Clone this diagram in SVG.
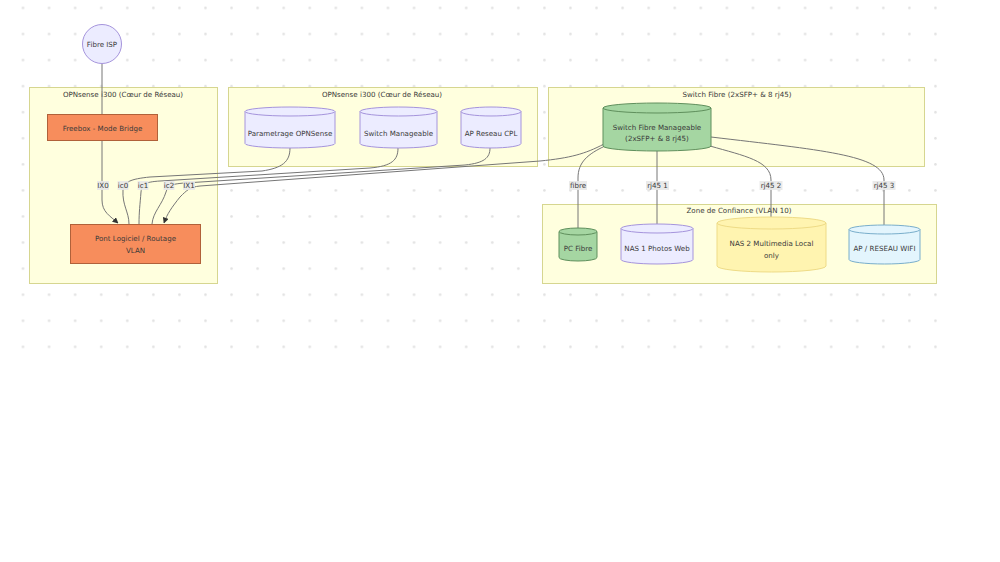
<svg xmlns="http://www.w3.org/2000/svg" width="1000" height="562" viewBox="0 0 1000 562">
<defs>
<pattern id="dots" x="10" y="-5" width="26.07" height="26.07" patternUnits="userSpaceOnUse">
<circle cx="13" cy="13" r="1.3" fill="#e2e2e2"/>
</pattern>
<marker id="arr" viewBox="0 0 10 10" refX="9" refY="5" markerWidth="6" markerHeight="6" orient="auto" markerUnits="userSpaceOnUse">
<path d="M0,0 L10,5 L0,10 z" fill="#333"/>
</marker>
<style>
text{font-family:"DejaVu Sans","Liberation Sans",sans-serif;font-size:7.1px;fill:#3a3a3a;text-anchor:middle;dominant-baseline:central}
.cl{fill:#ffffde;stroke:#d6d690;stroke-width:1}
.edge{fill:none;stroke:#767676;stroke-width:1}
.lbl{fill:#e8e8e8;opacity:0.9}
.def{fill:#ececff;stroke:#a594dc;stroke-width:1}
.org{fill:#f78d5c;stroke:#b0613a;stroke-width:1}
.grn{fill:#a5d6a2;stroke:#5f8f5c;stroke-width:1}
.yel{fill:#fff4b0;stroke:#eedb86;stroke-width:1}
.blu{fill:#e3f5fd;stroke:#79aecb;stroke-width:1}
</style>
</defs>
<rect x="0" y="0" width="1000" height="562" fill="#ffffff"/>
<rect x="10" y="0" width="938" height="360" fill="url(#dots)"/>

<g id="clusters">
<g id="cluster-opn1"><rect class="cl" x="29.5" y="87.5" width="188" height="196"/><text x="123" y="94">OPNsense i300 (Cœur de Réseau)</text></g>
<g id="cluster-opn2"><rect class="cl" x="228.5" y="87.5" width="309" height="79"/><text x="382" y="94">OPNsense i300 (Cœur de Réseau)</text></g>
<g id="cluster-switch"><rect class="cl" x="548.5" y="87.5" width="376" height="79"/><text x="737" y="94">Switch Fibre (2xSFP+ &amp; 8 rj45)</text></g>
<g id="cluster-zone"><rect class="cl" x="542.5" y="204.5" width="394" height="79"/><text x="739" y="210">Zone de Confiance (VLAN 10)</text></g>
</g>

<g id="connectors">
<path class="edge" d="M102,64 L102,114"/>
<path class="edge" d="M102,141 L102,200 C102,212 110,216 118,223" marker-end="url(#arr)"/>
<path class="edge" d="M290,148 C290,162 282,168 262,171 L150,177 C130,179 124,182 123,190 C122,205 129,212 129,224"/>
<path class="edge" d="M398,148 C398,160 392,166 370,168 L160,181 C145,182 142,184 141,192 C140,205 139,212 139,224"/>
<path class="edge" d="M490,148 C490,158 484,163 465,165 L185,183 C170,184 168,186 166,192 C162,205 153,212 152,224"/>
<path class="edge" d="M604,144 C585,154 570,158 540,161 L200,186 C190,187 187,190 180,197 C172,207 167,214 164,223" marker-end="url(#arr)"/>
<path class="edge" d="M605,146 C588,154 578,162 578,178 L578,229"/>
<path class="edge" d="M657,151 L657,225"/>
<path class="edge" d="M710,146 C745,156 771,161 771,180 L771,218"/>
<path class="edge" d="M711,137 C820,150 884,155 884,180 L884,226"/>
</g>

<g id="edge-labels">
<rect class="lbl" x="97" y="181" width="12" height="9"/><text x="103" y="185.5">IX0</text>
<rect class="lbl" x="117.5" y="181" width="11" height="9"/><text x="123" y="185.5">ic0</text>
<rect class="lbl" x="137.5" y="181" width="11" height="9"/><text x="143" y="185.5">ic1</text>
<rect class="lbl" x="163.5" y="181" width="11" height="9"/><text x="169" y="185.5">ic2</text>
<rect class="lbl" x="183" y="181" width="12" height="9"/><text x="189" y="185.5">IX1</text>
<rect class="lbl" x="569" y="181" width="18" height="9"/><text x="578" y="185.5">fibre</text>
<rect class="lbl" x="646" y="181" width="23" height="9"/><text x="657.5" y="185.5">rj45 1</text>
<rect class="lbl" x="759.5" y="181" width="23" height="9"/><text x="771" y="185.5">rj45 2</text>
<rect class="lbl" x="872.5" y="181" width="23" height="9"/><text x="884" y="185.5">rj45 3</text>
</g>

<g id="fibre-isp"><circle class="def" cx="102" cy="44" r="19.5"/><text x="102" y="44">Fibre ISP</text></g>
<g id="freebox"><rect class="org" x="47.5" y="114.5" width="110" height="26"/><text x="102.5" y="128">Freebox - Mode Bridge</text></g>
<g id="pont"><rect class="org" x="70.5" y="224.5" width="130" height="39"/><text x="135.5" y="238">Pont Logiciel / Routage</text><text x="135.5" y="250">VLAN</text></g>

<g id="parametrage"><path class="def" d="M245,111.5 a45,4.5 0 0 0 90,0 a45,4.5 0 0 0 -90,0 l0,32 a45,4.5 0 0 0 90,0 l0,-32"/><text x="290" y="133">Parametrage OPNSense</text></g>
<g id="switch-manageable"><path class="def" d="M360,111.5 a38.5,4.5 0 0 0 77,0 a38.5,4.5 0 0 0 -77,0 l0,32 a38.5,4.5 0 0 0 77,0 l0,-32"/><text x="398.5" y="133">Switch Manageable</text></g>
<g id="ap-cpl"><path class="def" d="M461,111.5 a30,4.5 0 0 0 60,0 a30,4.5 0 0 0 -60,0 l0,32 a30,4.5 0 0 0 60,0 l0,-32"/><text x="491" y="133">AP Reseau CPL</text></g>

<g id="switch-fibre"><path class="grn" d="M603,108 a54,5 0 0 0 108,0 a54,5 0 0 0 -108,0 l0,38 a54,5 0 0 0 108,0 l0,-38"/><text x="657" y="127">Switch Fibre Manageable</text><text x="657" y="138">(2xSFP+ &amp; 8 rj45)</text></g>

<g id="pc-fibre"><path class="grn" d="M559,231.5 a19,3.5 0 0 0 38,0 a19,3.5 0 0 0 -38,0 l0,26 a19,3.5 0 0 0 38,0 l0,-26"/><text x="578" y="248">PC Fibre</text></g>
<g id="nas1"><path class="def" d="M621,228.5 a36,4.5 0 0 0 72,0 a36,4.5 0 0 0 -72,0 l0,31 a36,4.5 0 0 0 72,0 l0,-31"/><text x="657" y="248">NAS 1 Photos Web</text></g>
<g id="nas2"><path class="yel" d="M717,223 a54.5,6 0 0 0 109,0 a54.5,6 0 0 0 -109,0 l0,43 a54.5,6 0 0 0 109,0 l0,-43"/><text x="771.5" y="243">NAS 2 Multimedia Local</text><text x="771.5" y="255">only</text></g>
<g id="ap-wifi"><path class="blu" d="M849,229.5 a35.5,4.5 0 0 0 71,0 a35.5,4.5 0 0 0 -71,0 l0,30 a35.5,4.5 0 0 0 71,0 l0,-30"/><text x="884.5" y="248">AP / RESEAU WIFI</text></g>
</svg>
